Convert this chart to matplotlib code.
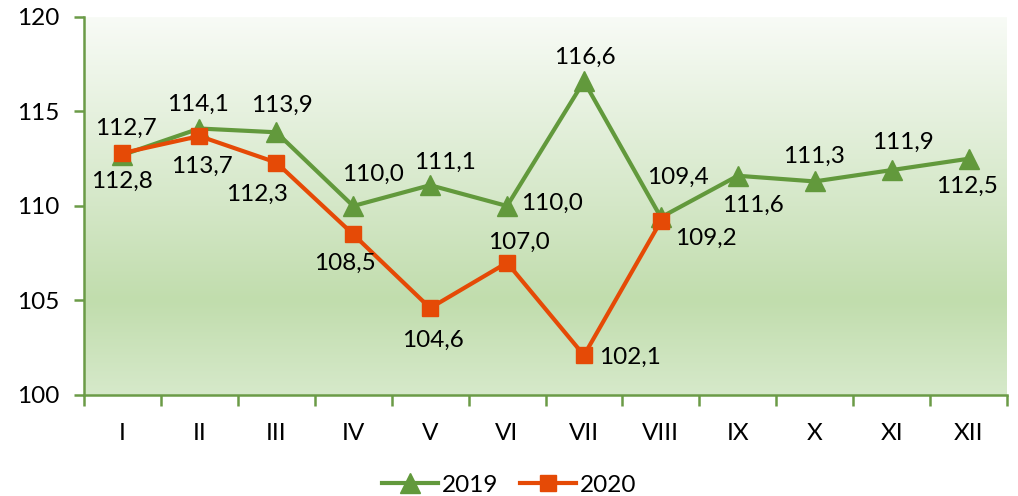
import matplotlib.pyplot as plt
import matplotlib as mpl
import numpy as np
from matplotlib.colors import LinearSegmentedColormap

plt.style.use("default")
mpl.rcParams["font.family"] = ["Lato", "DejaVu Sans"]

# -----------------------------
# Data
# -----------------------------
months = ["I", "II", "III", "IV", "V", "VI", "VII", "VIII", "IX", "X", "XI", "XII"]
values_2019 = [112.7, 114.1, 113.9, 110.0, 111.1, 110.0, 116.6, 109.4, 111.6, 111.3, 111.9, 112.5]
values_2020 = [112.8, 113.7, 112.3, 108.5, 104.6, 107.0, 102.1, 109.2]
series_names = ["2019", "2020"]
y_ticks = [100, 105, 110, 115, 120]

# label offsets in pixels (dx, dy), layout only
offsets_2019 = [(3, 27), (-1, 24), (6, 27), (20, 32), (15, 23), (45, 3),
                (1, 24), (17, 40), (15, -30), (-1, 25), (11, 28), (-2, -28)]
offsets_2020 = [(-1, -28), (3, -30), (-19, -32), (-8, -29), (3, -32), (12, 20),
                (46, -2), (45, -17)]

GREEN = "#62993c"
ORANGE = "#e54a06"
SPINE = "#6b9b47"
FS = 17.5

# -----------------------------
# Figure setup
# -----------------------------
fig = plt.figure(figsize=(10.18, 4.96), dpi=100, facecolor="white")
ax = fig.add_axes([84 / 1018, 101 / 496, 923 / 1018, 378 / 496])

# background gradient (bottom -> top)
grad = LinearSegmentedColormap.from_list(
    "bg",
    [(0.0, (214/255, 233/255, 202/255)),
     (0.25, (193/255, 221/255, 173/255)),
     (0.5, (212/255, 231/255, 199/255)),
     (1.0, (248/255, 251/255, 246/255))],
)
ax.imshow(np.linspace(0, 1, 256).reshape(-1, 1), cmap=grad, origin="lower",
          extent=[0, 1, 0, 1], transform=ax.transAxes, aspect="auto", zorder=0)

x19 = np.arange(len(values_2019))
x20 = np.arange(len(values_2020))

l19, = ax.plot(x19, values_2019, color=GREEN, lw=3, marker="^", ms=15,
               mec=GREEN, mfc=GREEN, zorder=3, label=series_names[0])
l20, = ax.plot(x20, values_2020, color=ORANGE, lw=3, marker="s", ms=12,
               mec=ORANGE, mfc=ORANGE, zorder=4, label=series_names[1])

for xi, v, off in zip(x19, values_2019, offsets_2019):
    ax.annotate(f"{v:.1f}".replace(".", ","), xy=(xi, v), xytext=off,
                textcoords="offset pixels", ha="center", va="center",
                fontsize=FS, color="black", zorder=6)
for xi, v, off in zip(x20, values_2020, offsets_2020):
    ax.annotate(f"{v:.1f}".replace(".", ","), xy=(xi, v), xytext=off,
                textcoords="offset pixels", ha="center", va="center",
                fontsize=FS, color="black", zorder=6)

# -----------------------------
# Axes, ticks
# -----------------------------
ax.set_xlim(-0.5, len(months) - 0.5)
ax.set_ylim(100, 120)
ax.set_yticks(y_ticks)
ax.set_xticks(np.arange(len(months) + 1) - 0.5)
ax.set_xticklabels([])
ax.set_xticks(np.arange(len(months)), minor=True)
ax.set_xticklabels(months, minor=True)

for side in ["top", "right"]:
    ax.spines[side].set_visible(False)
for side in ["left", "bottom"]:
    ax.spines[side].set_color(SPINE)
    ax.spines[side].set_linewidth(1.8)

ax.tick_params(axis="y", direction="out", length=7, width=1.8, color=SPINE,
               labelsize=FS, pad=11)
ax.tick_params(axis="x", which="major", direction="out", length=8, width=1.8,
               color=SPINE)
ax.tick_params(axis="x", which="minor", length=0, labelsize=FS, pad=20)

fig.legend(handles=[l19, l20], loc="center", bbox_to_anchor=(0.5, 11 / 496),
           ncol=2, frameon=False, fontsize=FS, handlelength=2.3,
           handletextpad=0.15, columnspacing=0.9)

plt.savefig("out.png", dpi=100, facecolor="white")
